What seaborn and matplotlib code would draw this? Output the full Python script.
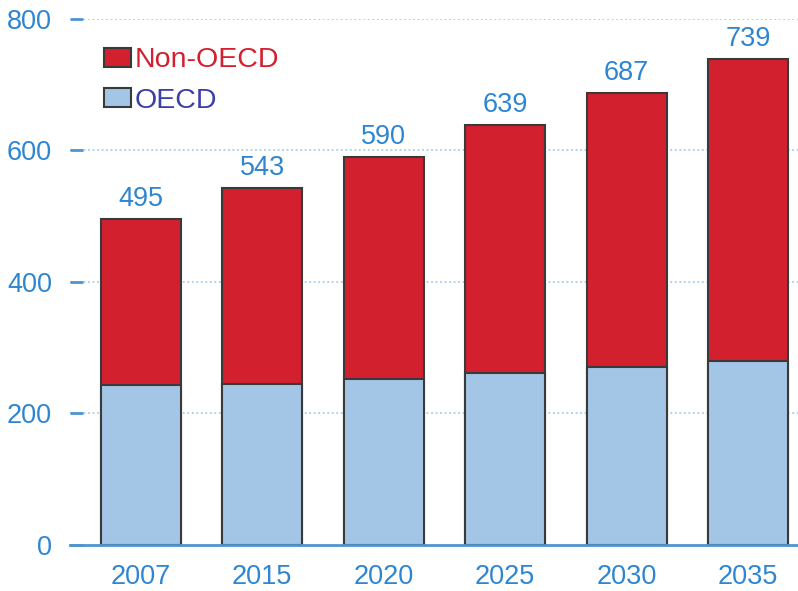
import matplotlib
matplotlib.use('Agg')
import matplotlib.pyplot as plt
import seaborn as sns
import pandas as pd

# chart data
years = ['2007', '2015', '2020', '2025', '2030', '2035']
total = [495, 543, 590, 639, 687, 739]
oecd = [243, 244, 252, 261, 270, 280]

df = pd.DataFrame({'year': years, 'total': total, 'oecd': oecd})

sns.set_style('white')
plt.rcParams['font.family'] = ['Liberation Sans', 'DejaVu Sans']

blue_txt = '#2e86d1'
red = '#d2202f'
light = '#a3c5e6'
edge = '#3a3a3a'
fs = 19.5

fig = plt.figure(figsize=(7.98, 5.91), dpi=100)
ax = fig.add_axes([0.088, 0.078, 0.912, 0.89])

# dotted grid behind bars
for v in [200, 400, 600, 800]:
    ax.axhline(v, color='#a9cbec', lw=1.3, ls=(0, (1, 1.5)), zorder=0)

sns.barplot(data=df, x='year', y='total', color=red, width=0.66,
            edgecolor=edge, linewidth=1.5, saturation=1, ax=ax, zorder=2,
            label='Non-OECD')
sns.barplot(data=df, x='year', y='oecd', color=light, width=0.66,
            edgecolor=edge, linewidth=1.5, saturation=1, ax=ax, zorder=3,
            label='OECD')

# value labels above bars
for i, t in enumerate(total):
    ax.text(i, t + 11, str(t), ha='center', va='bottom', fontsize=fs,
            color=blue_txt, zorder=4)

ax.set_xlim(-0.58, 5.41)
ax.set_ylim(0, 800)
ax.set_yticks([0, 200, 400, 600, 800])
ax.set_xlabel('')
ax.set_ylabel('')

for s in ['top', 'right', 'left']:
    ax.spines[s].set_visible(False)
ax.spines['bottom'].set_color('#4f94cf')
ax.spines['bottom'].set_linewidth(2)
ax.spines['bottom'].set_zorder(5)

ax.tick_params(axis='y', labelcolor=blue_txt, color='#4f94cf', labelsize=fs,
               length=9, width=2, left=True, direction='in', pad=13)
ax.tick_params(axis='x', labelcolor=blue_txt, labelsize=fs, length=0, pad=14)

leg = ax.legend(loc='upper left', bbox_to_anchor=(0.031, 0.968), frameon=False,
                fontsize=fs + 1, handlelength=0.95, handleheight=0.65,
                handletextpad=0.12, labelspacing=0.52, borderaxespad=0)
for txt, c in zip(leg.get_texts(), [red, '#3b3fa8']):
    txt.set_color(c)

fig.savefig('out.png', dpi=100)
